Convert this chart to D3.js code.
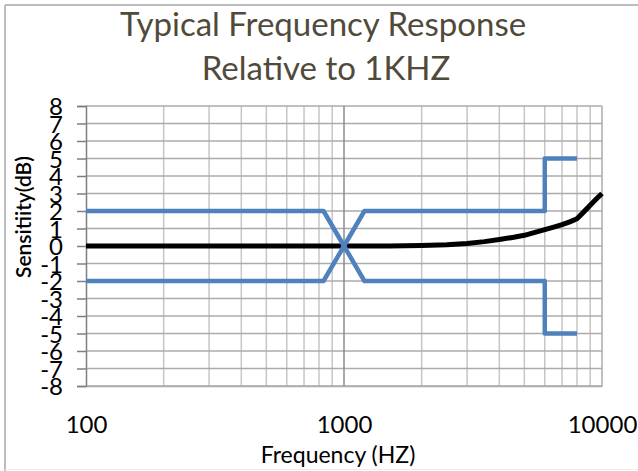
<!DOCTYPE html>
<html>
<head>
<meta charset="utf-8">
<script src="https://cdn.jsdelivr.net/npm/d3@7"></script>
<style>
  html, body { margin: 0; padding: 0; background: #fff; }
  svg { display: block; font-family: Lato, "Open Sans", sans-serif; }
</style>
</head>
<body>
<svg id="chart" width="638" height="471"></svg>
<script>
// Limit envelope (upper / lower), in Hz and dB
const limitFreq  = [100, 833, 1000, 1200, 6000, 6000, 8000];
const upperLimit = [2,   2,   0,    2,    2,    5,    5];
const lowerLimit = [-2, -2,   0,   -2,   -2,   -5,   -5];

// Measured typical response
const respFreq = [100, 300, 500, 1000, 1500, 2000, 2500, 3000, 3500, 4000, 4500, 5000, 5500, 6000, 6500, 7000, 7500, 8000, 8500, 9000, 9500, 10000];
const respDb   = [0,   0,   0,   0,    0,    0.03, 0.07, 0.14, 0.25, 0.37, 0.49, 0.61, 0.78, 0.94, 1.08, 1.22, 1.38, 1.56, 1.95, 2.33, 2.68, 3.0];

const yTicks = d3.range(-8, 9);
const xLabels = [100, 1000, 10000];

const svg = d3.select("#chart");
const M = {left: 86, right: 36, top: 106, bottom: 85};
const W = 638, H = 471;

// outer frame (only top/left visible in the picture)
svg.append("line").attr("x1", 5).attr("x2", W).attr("y1", 5).attr("y2", 5)
  .attr("stroke", "#bdbdbd").attr("stroke-width", 2);
svg.append("line").attr("x1", 5).attr("x2", 5).attr("y1", 5).attr("y2", H)
  .attr("stroke", "#bdbdbd").attr("stroke-width", 2);
svg.append("line").attr("x1", 5).attr("x2", W).attr("y1", 469.5).attr("y2", 469.5)
  .attr("stroke", "#eeeeee").attr("stroke-width", 1);

const x = d3.scaleLog().domain([100, 10000]).range([M.left, W - M.right]);
const y = d3.scaleLinear().domain([-8, 8]).range([H - M.bottom, M.top]);

// minor vertical grid
const minor = [];
for (const dec of [100, 1000]) for (let k = 2; k <= 9; k++) minor.push(dec * k);
svg.append("g").selectAll("line").data(minor).join("line")
  .attr("x1", d => x(d)).attr("x2", d => x(d))
  .attr("y1", y(8)).attr("y2", y(-8))
  .attr("stroke", "#c6c6c6").attr("stroke-width", 1.5);

// horizontal grid
svg.append("g").selectAll("line").data(yTicks).join("line")
  .attr("x1", x(100)).attr("x2", x(10000))
  .attr("y1", d => y(d)).attr("y2", d => y(d))
  .attr("stroke", "#ababab").attr("stroke-width", 1.5);

// major vertical grid
svg.append("g").selectAll("line").data([1000, 10000]).join("line")
  .attr("x1", d => x(d)).attr("x2", d => x(d))
  .attr("y1", y(8)).attr("y2", y(-8))
  .attr("stroke", d => d === 1000 ? "#8c8c8c" : "#ababab").attr("stroke-width", 1.5);

// y axis (plain hyphen minus, like the original)
const yAxis = svg.append("g")
  .attr("transform", `translate(${M.left},0)`)
  .call(d3.axisLeft(y).tickValues(yTicks).tickSize(9).tickPadding(14).tickFormat(d => String(d)));
yAxis.select(".domain").attr("stroke", "#7f7f7f").attr("stroke-width", 1.5);
yAxis.selectAll(".tick line").attr("stroke", "#7f7f7f").attr("stroke-width", 1.5);
yAxis.selectAll(".tick text").attr("font-size", 24).attr("font-family", "Lato")
  .attr("fill", "#000").attr("dy", "0.36em");

// x axis labels
const xAxis = svg.append("g")
  .attr("transform", `translate(0,${H - M.bottom})`)
  .call(d3.axisBottom(x).tickValues(xLabels).tickSize(0).tickPadding(30).tickFormat(d3.format("d")));
xAxis.select(".domain").attr("stroke", "#ababab").attr("stroke-width", 1.5);
xAxis.selectAll(".tick text").attr("font-size", 24).attr("font-family", "Lato").attr("fill", "#000");

// series
const line = d3.line().x(d => x(d[0])).y(d => y(d[1]));
svg.append("path").datum(respFreq.map((f, i) => [f, respDb[i]]))
  .attr("d", line).attr("fill", "none")
  .attr("stroke", "#000").attr("stroke-width", 5).attr("stroke-linejoin", "round");
for (const arr of [upperLimit, lowerLimit]) {
  svg.append("path").datum(limitFreq.map((f, i) => [f, arr[i]]))
    .attr("d", line).attr("fill", "none")
    .attr("stroke", "#4f81bd").attr("stroke-width", 4.5).attr("stroke-linejoin", "round");
}

// titles
svg.append("text").attr("x", 323).attr("y", 36).attr("text-anchor", "middle")
  .attr("font-size", 33).attr("fill", "#4f4a3a").text("Typical Frequency Response");
svg.append("text").attr("x", 326).attr("y", 80).attr("text-anchor", "middle")
  .attr("font-size", 33).attr("fill", "#4f4a3a").text("Relative to 1KHZ");
svg.append("text").attr("x", 338).attr("y", 463).attr("text-anchor", "middle")
  .attr("font-size", 23).attr("fill", "#000").text("Frequency (HZ)");
svg.append("text").attr("transform", "translate(31,217) rotate(-90)").attr("text-anchor", "middle")
  .attr("font-size", 21).attr("font-weight", 600).attr("fill", "#000").text("Sensitiity(dB)");
</script>
</body>
</html>
